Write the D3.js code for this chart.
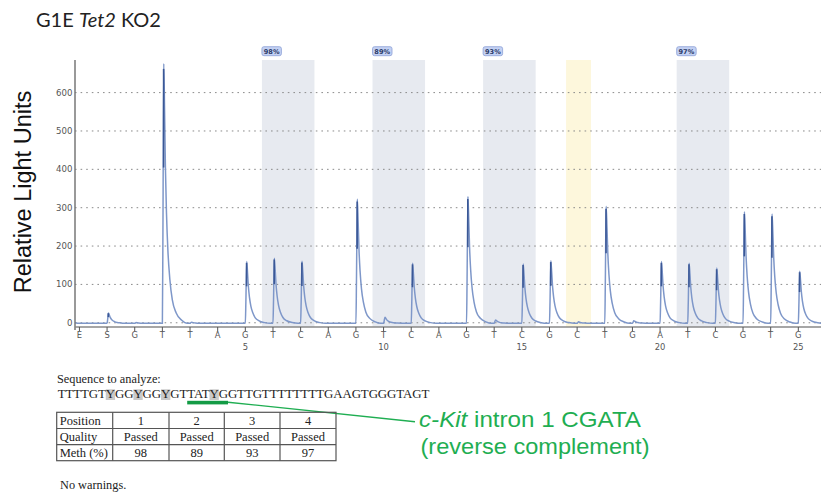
<!DOCTYPE html>
<html><head><meta charset="utf-8">
<script src="https://cdn.jsdelivr.net/npm/d3@7"></script>
<style>body{margin:0;background:#fff}</style></head>
<body><svg id="c" width="821" height="492"></svg>
<script>
// ---------------- data ----------------
const dispensation = ['E','S','G','T','T','A','G','T','C','A','G','T','C','A','G','T','C','G','C','T','G','A','T','C','G','T','G'];
const peakHeights  = [0, 27, 2, 677, 3, 0, 161, 170, 162, 0, 324, 16, 157, 0, 331, 9, 155, 163, 4, 305, 7, 161, 157, 144, 291, 285, 136];
const positionTicks = [5, 10, 15, 20, 25];
const cpgSites = [[7, 8], [11, 12], [15, 16], [22, 23]];
const methLabels = ['98%', '89%', '93%', '97%'];
const controlSites = [18];
const yTicks = [0, 100, 200, 300, 400, 500, 600];
const sequence = 'TTTTGTYGGYGGYGTTATYGGTTGTTTTTTTTGAAGTGGGTAGT';
const underlineRange = [15, 19];
const tableRowLabels = ['Position', 'Quality', 'Meth (%)'];
const tablePositions = ['1', '2', '3', '4'];
const tableQuality = ['Passed', 'Passed', 'Passed', 'Passed'];
const tableMeth = ['98', '89', '93', '97'];

// ---------------- layout ----------------
const svg = d3.select('#c');
const x = d3.scaleLinear().domain([-0.16, 26.82]).range([75, 821]);
const y = d3.scaleLinear().domain([-11, 685]).range([327, 60]);
const plotTop = 60, plotBottom = 327, plotLeft = 75, plotRight = 821;

// bands
const bandG = svg.append('g');
cpgSites.forEach((s, k) => {
  const x0 = x(s[0] - 0.4), x1 = x(s[s.length - 1] + 0.5);
  bandG.append('rect').attr('x', x0).attr('y', plotTop).attr('width', x1 - x0).attr('height', plotBottom - plotTop).attr('fill', '#e7eaf0');
  bandG.append('rect').attr('x', x0).attr('y', 46.7).attr('width', 19.5).attr('height', 9).attr('rx', 2)
    .attr('fill', '#c3d1f3').attr('stroke', '#8b9fd6').attr('stroke-width', 0.8);
  bandG.append('text').attr('x', x0 + 9.75).attr('y', 53.8).attr('text-anchor', 'middle')
    .attr('font-family', 'DejaVu Sans').attr('font-size', 6.6).attr('font-weight', 'bold').attr('fill', '#2b3a67').text(methLabels[k]);
});
controlSites.forEach(s => {
  const x0 = x(s - 0.4), x1 = x(s + 0.5);
  bandG.append('rect').attr('x', x0).attr('y', plotTop).attr('width', x1 - x0).attr('height', plotBottom - plotTop).attr('fill', '#fdf7dc');
});

// gridlines
svg.append('g').selectAll('line').data(yTicks).join('line')
  .attr('x1', plotLeft).attr('x2', plotRight).attr('y1', d => y(d)).attr('y2', d => y(d))
  .attr('stroke', '#8a8a8a').attr('stroke-width', 1).attr('stroke-dasharray', '1.6,4');

// trace
const profile = [[0, 0], [0.02, 0.35], [0.05, 1], [0.08, 0.82], [0.11, 0.6], [0.15, 0.42], [0.2, 0.28], [0.27, 0.17], [0.36, 0.09], [0.5, 0.04], [0.7, 0.012], [0.9, 0]];
const base = -1.5;
const pts = [[-0.16, 0]];
peakHeights.forEach((h, i) => {
  if (h <= 0) { pts.push([i, base]); return; }
  profile.forEach(([dx, f]) => pts.push([i + dx, base + h * f]));
});
pts.push([26.82, base]);
const line = d3.line().x(d => x(d[0])).y(d => y(d[1])).curve(d3.curveMonotoneX);
svg.append('path').attr('d', line(pts)).attr('fill', 'none').attr('stroke', '#7e97c9').attr('stroke-width', 1.5);
// dark core of each peak
svg.append('g').selectAll('line').data(peakHeights.map((h, i) => ({h, i})).filter(d => d.h >= 20)).join('line')
  .attr('x1', d => x(d.i + 0.045)).attr('x2', d => x(d.i + 0.045))
  .attr('y1', d => y(base + d.h * 0.6)).attr('y2', d => y(base + d.h * 0.98))
  .attr('stroke', '#3b5896').attr('stroke-width', 1.6);

// axes
svg.append('line').attr('x1', plotLeft).attr('x2', plotLeft).attr('y1', plotTop).attr('y2', 330).attr('stroke', '#777').attr('stroke-width', 1.5);
svg.append('line').attr('x1', plotLeft).attr('x2', plotRight).attr('y1', plotBottom).attr('y2', plotBottom).attr('stroke', '#888').attr('stroke-width', 1.5);
svg.append('g').selectAll('text').data(yTicks).join('text')
  .attr('x', 72.5).attr('y', d => y(d) + 3).attr('text-anchor', 'end')
  .attr('font-family', 'DejaVu Sans').attr('font-size', 8.6).attr('fill', '#555').text(d => d);
svg.append('g').selectAll('line').data(dispensation).join('line')
  .attr('x1', (d, i) => x(i)).attr('x2', (d, i) => x(i)).attr('y1', plotBottom).attr('y2', plotBottom + 4)
  .attr('stroke', '#555').attr('stroke-width', 1);
svg.append('g').selectAll('text').data(dispensation).join('text')
  .attr('x', (d, i) => x(i)).attr('y', 337.5).attr('text-anchor', 'middle')
  .attr('font-family', 'DejaVu Sans').attr('font-size', 8.4).attr('fill', '#555').text(d => d);
svg.append('g').selectAll('text').data(positionTicks).join('text')
  .attr('x', d => x(d + 1)).attr('y', 350).attr('text-anchor', 'middle')
  .attr('font-family', 'DejaVu Sans').attr('font-size', 8.4).attr('fill', '#555').text(d => d);

// title
const t = svg.append('text').attr('x', 36).attr('y', 27).attr('font-family', 'Lato').attr('font-size', 20).attr('fill', '#222');
t.append('tspan').text('G1E ');
t.append('tspan').attr('font-style', 'italic').text('Tet2');
t.append('tspan').text(' KO2');

// y label
svg.append('text').attr('transform', 'translate(31,192) rotate(-90)').attr('text-anchor', 'middle')
  .attr('font-family', 'Liberation Sans').attr('font-size', 23.5).attr('fill', '#111').text('Relative Light Units');

// sequence
const serif = 'Liberation Serif';
svg.append('text').attr('x', 57).attr('y', 383).attr('font-family', serif).attr('font-size', 12.3).attr('fill', '#222').text('Sequence to analyze:');
const hlG = svg.append('g');
const seq = svg.append('text').attr('x', 57.7).attr('y', 398).attr('font-family', serif).attr('font-size', 12.9)
  .attr('textLength', 371.6).attr('lengthAdjust', 'spacing').attr('fill', '#222').text(sequence);
const sn = seq.node();
sequence.split('').forEach((c, i) => {
  if (c === 'Y') {
    const e = sn.getExtentOfChar(i);
    hlG.append('rect').attr('x', e.x).attr('y', 389.3).attr('width', e.width).attr('height', 10.7).attr('fill', '#c9c9c9');
  }
});
const e0 = sn.getExtentOfChar(underlineRange[0]);
const e1 = sn.getExtentOfChar(underlineRange[1]);
const uEnd = e1.x + e1.width;
svg.append('rect').attr('x', e0.x).attr('y', 400.8).attr('width', uEnd - e0.x).attr('height', 3.6).attr('fill', '#139b45');
svg.append('line').attr('x1', uEnd).attr('y1', 402.2).attr('x2', 415).attr('y2', 421.7).attr('stroke', '#1fae52').attr('stroke-width', 1.4);

// annotation
const a1 = svg.append('text').attr('x', 419).attr('y', 427).attr('font-family', 'Liberation Sans').attr('font-size', 22.5).attr('fill', '#1fae52')
  .attr('textLength', 222).attr('lengthAdjust', 'spacingAndGlyphs');
a1.append('tspan').attr('font-style', 'italic').text('c-Kit');
a1.append('tspan').text(' intron 1 CGATA');
svg.append('text').attr('x', 420.5).attr('y', 454).attr('font-family', 'Liberation Sans').attr('font-size', 22.5).attr('fill', '#1fae52')
  .attr('textLength', 229).attr('lengthAdjust', 'spacingAndGlyphs').text('(reverse complement)');

// table
const colX = [56.7, 112.7, 169, 224.3, 280, 336];
const rowY = [412.3, 428.5, 444.6, 460.7];
const tg = svg.append('g');
tg.append('rect').attr('x', colX[0]).attr('y', rowY[0]).attr('width', colX[5] - colX[0]).attr('height', rowY[3] - rowY[0])
  .attr('fill', 'none').attr('stroke', '#555').attr('stroke-width', 1.2);
colX.slice(1, 5).forEach(cx => tg.append('line').attr('x1', cx).attr('x2', cx).attr('y1', rowY[0]).attr('y2', rowY[3]).attr('stroke', '#555').attr('stroke-width', 1.2));
rowY.slice(1, 3).forEach(ry => tg.append('line').attr('x1', colX[0]).attr('x2', colX[5]).attr('y1', ry).attr('y2', ry).attr('stroke', '#555').attr('stroke-width', 1.2));
const rows = [tablePositions, tableQuality, tableMeth];
rows.forEach((r, ri) => {
  tg.append('text').attr('x', colX[0] + 3).attr('y', rowY[ri] + 12.5).attr('font-family', serif).attr('font-size', 12.5).attr('fill', '#222').text(tableRowLabels[ri]);
  r.forEach((v, ci) => tg.append('text').attr('x', (colX[ci + 1] + colX[ci + 2]) / 2).attr('y', rowY[ri] + 12.5)
    .attr('text-anchor', 'middle').attr('font-family', serif).attr('font-size', 12.5).attr('fill', '#222').text(v));
});
svg.append('text').attr('x', 60).attr('y', 488.5).attr('font-family', serif).attr('font-size', 12.3).attr('fill', '#222').text('No warnings.');
</script></body></html>
